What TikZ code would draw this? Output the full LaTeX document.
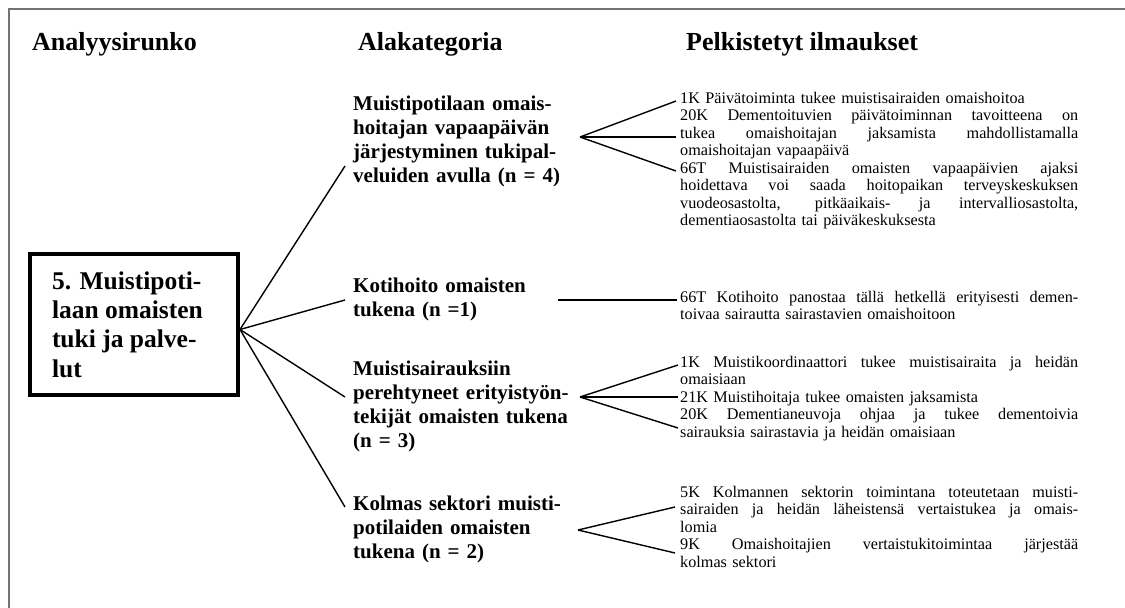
\documentclass[tikz,border=0pt]{standalone}
\usepackage{fontspec}
\setmainfont{Liberation Serif}
\newlength{\statw}
\setlength{\statw}{398pt}
% one justified line of a statement: the word spaces share the free room
\newcommand{\jl}[1]{\makebox[\statw][s]{\spaceskip=0.25em plus 1fil\xspaceskip=0.25em plus 1fil #1}}
\tikzset{
  head/.style={font=\fontsize{26}{29}\selectfont\bfseries, anchor=base west, inner sep=0pt},
  topicbox/.style={draw, line width=4pt, minimum width=208pt, minimum height=141pt, inner sep=0pt,
    font=\fontsize{25.5}{29.3}\selectfont\bfseries},
  cat/.style={font=\fontsize{21}{24.3}\selectfont\bfseries, anchor=base west, inner sep=0pt,
    text width=240pt, align=left},
  stmt/.style={font=\fontsize{16.2}{17.5}\selectfont, anchor=base west, inner sep=0pt,
    text width=\statw, align=left},
  conn/.style={line width=1.4pt},
  frameline/.style={draw=black!55, line width=2pt},
}
\begin{document}
\begin{tikzpicture}[x=1pt, y=-1pt]
\useasboundingbox (0,0) rectangle (1125,608);
\draw[frameline] (9,608) -- (9,9) -- (1125,9);

% column headings
\node[head] (h1) at (32,50) {Analyysirunko};
\node[head] (h2) at (358,50) {Alakategoria};
\node[head] (h3) at (686,50) {Pelkistetyt ilmaukset};

% main theme
\node[topicbox] (topic) at (134,324.5) {\parbox{164pt}{\raggedright
  5. Muistipoti-\\laan omaisten\\tuki ja palve-\\lut}};

% subcategories
\node[cat] (c1) at (353,110) {Muistipotilaan omais-\\hoitajan vapaapäivän\\järjestyminen tukipal-\\veluiden avulla (n = 4)};
\node[cat] (c2) at (353,292) {Kotihoito omaisten\\tukena (n =1)};
\node[cat] (c3) at (353,375) {Muistisairauksiin\\perehtyneet erityistyön-\\tekijät omaisten tukena\\(n = 3)};
\node[cat] (c4) at (353,510) {Kolmas sektori muisti-\\potilaiden omaisten\\tukena (n = 2)};

% reduced expressions
\node[stmt] (s1a) at (680,103) {1K Päivätoiminta tukee muistisairaiden omaishoitoa};
\node[stmt] (s1b) at (680,120.5) {\jl{20K Dementoituvien päivätoiminnan tavoitteena on}\\
  \jl{tukea omaishoitajan jaksamista mahdollistamalla}\\omaishoitajan vapaapäivä};
\node[stmt] (s1c) at (680,173) {\jl{66T Muistisairaiden omaisten vapaapäivien ajaksi}\\
  \jl{hoidettava voi saada hoitopaikan terveyskeskuksen}\\
  \jl{vuodeosastolta, pitkäaikais- ja intervalliosastolta,}\\dementiaosastolta tai päiväkeskuksesta};
\node[stmt] (s2) at (680,302) {\jl{66T Kotihoito panostaa tällä hetkellä erityisesti demen-}\\
  toivaa sairautta sairastavien omaishoitoon};
\node[stmt] (s3a) at (680,367) {\jl{1K Muistikoordinaattori tukee muistisairaita ja heidän}\\omaisiaan};
\node[stmt] (s3b) at (680,402) {21K Muistihoitaja tukee omaisten jaksamista};
\node[stmt] (s3c) at (680,419.5) {\jl{20K Dementianeuvoja ohjaa ja tukee dementoivia}\\
  sairauksia sairastavia ja heidän omaisiaan};
\node[stmt] (s4a) at (680,497) {\jl{5K Kolmannen sektorin toimintana toteutetaan muisti-}\\
  \jl{sairaiden ja heidän läheistensä vertaistukea ja omais-}\\lomia};
\node[stmt] (s4b) at (680,549.5) {\jl{9K Omaishoitajien vertaistukitoimintaa järjestää}\\kolmas sektori};

% connectors from the theme to the subcategories
\coordinate (hub) at ([yshift=-5pt]topic.east);
\draw[conn] (hub) -- ([xshift=-8pt,yshift=-56pt]c1.base west);
\draw[conn] (hub) -- ([xshift=-8pt,yshift=-8pt]c2.base west);
\draw[conn] (hub) -- ([xshift=-8pt,yshift=-22pt]c3.base west);
\draw[conn] (hub) -- ([xshift=-8pt,yshift=3pt]c4.base west);

% fans from the subcategories to the expressions
\coordinate (f1) at (580,137);
\draw[conn] (f1) -- ([xshift=-4pt,yshift=2pt]s1a.base west);
\draw[conn] (f1) -- ([xshift=-4pt,yshift=-16.5pt]s1b.base west);
\draw[conn] (f1) -- ([xshift=-4pt,yshift=2pt]s1c.base west);

\coordinate (f2) at (558,300);
\draw[conn] (f2) -- ([xshift=-3pt,yshift=2pt]s2.base west);

\coordinate (f3) at (580,397);
\draw[conn] (f3) -- ([xshift=-2pt,yshift=2pt]s3a.base west);
\draw[conn] (f3) -- ([xshift=-2pt,yshift=5pt]s3b.base west);
\draw[conn] (f3) -- ([xshift=-2pt,yshift=-8.5pt]s3c.base west);

\coordinate (f4) at (578,530);
\draw[conn] (f4) -- ([xshift=-5pt,yshift=-10pt]s4a.base west);
\draw[conn] (f4) -- ([xshift=-5pt,yshift=-3.5pt]s4b.base west);
\end{tikzpicture}
\end{document}
